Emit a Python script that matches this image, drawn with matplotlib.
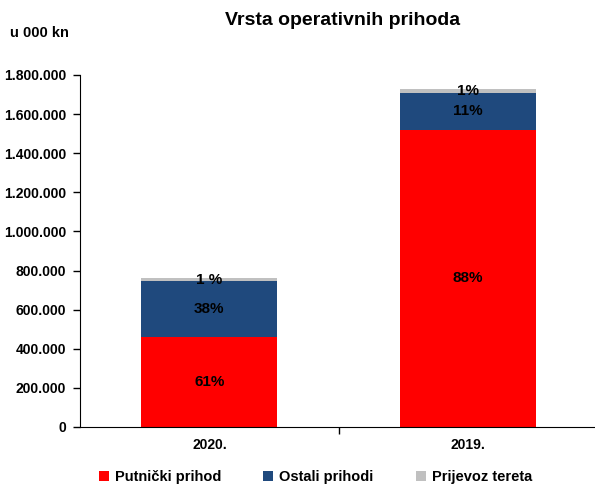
import numpy as np
import matplotlib.pyplot as plt

# Podaci (u 000 kn)
godine = ['2020.', '2019.']
putnicki = [461000, 1519000]
ostali = [287000, 189000]
teret = [12000, 20000]
oznake_putnicki = ['61%', '88%']
oznake_ostali = ['38%', '11%']
oznake_teret = ['1 %', '1%']

plt.rcParams['font.family'] = ['Liberation Sans', 'DejaVu Sans']
plt.rcParams['font.weight'] = 'bold'

fig = plt.figure(figsize=(5.95, 4.86), dpi=100)
ax = fig.add_axes([0.1345, 0.1214, 0.8655, 0.7243])

x = np.arange(len(godine))
w = 0.525
b1 = ax.bar(x, putnicki, w, color='#FF0000', label='Putnički prihod')
b2 = ax.bar(x, ostali, w, bottom=putnicki, color='#1F497D', label='Ostali prihodi')
dno = np.array(putnicki) + np.array(ostali)
b3 = ax.bar(x, teret, w, bottom=dno, color='#C0C0C0', label='Prijevoz tereta')

ax.bar_label(b1, labels=oznake_putnicki, label_type='center', fontsize=11, fontweight='bold')
ax.bar_label(b2, labels=oznake_ostali, label_type='center', fontsize=11, fontweight='bold')
ax.bar_label(b3, labels=oznake_teret, label_type='center', fontsize=11, fontweight='bold')

ax.set_ylim(0, 1800000)
ax.set_xlim(-0.5, 1.49)
ax.set_yticks(np.arange(0, 1800001, 200000))
ax.set_yticklabels([f'{v:,}'.replace(',', '.') for v in range(0, 1800001, 200000)])
ax.set_xticks(x)
ax.set_xticklabels(godine)
ax.set_xticks([0.5], minor=True)
ax.tick_params(axis='x', which='major', length=0, pad=8, labelsize=10)
ax.tick_params(axis='x', which='minor', length=5, width=1)
ax.tick_params(axis='y', length=5, width=1, labelsize=10, pad=5)
for lab in ax.get_xticklabels() + ax.get_yticklabels():
    lab.set_fontweight('bold')

ax.spines['top'].set_visible(False)
ax.spines['right'].set_visible(False)

fig.text(0.576, 0.958, 'Vrsta operativnih prihoda', ha='center', va='center',
         fontsize=14, fontweight='bold')
fig.text(0.017, 0.932, 'u 000 kn', ha='left', va='center', fontsize=10.5, fontweight='bold')

fig.legend(handles=[b1, b2, b3], loc='center', bbox_to_anchor=(0.53, 0.018), ncol=3,
           frameon=False, fontsize=10.5, handlelength=0.7, handleheight=0.7,
           columnspacing=2.9, handletextpad=0.4)

plt.savefig('out.png', dpi=100)
